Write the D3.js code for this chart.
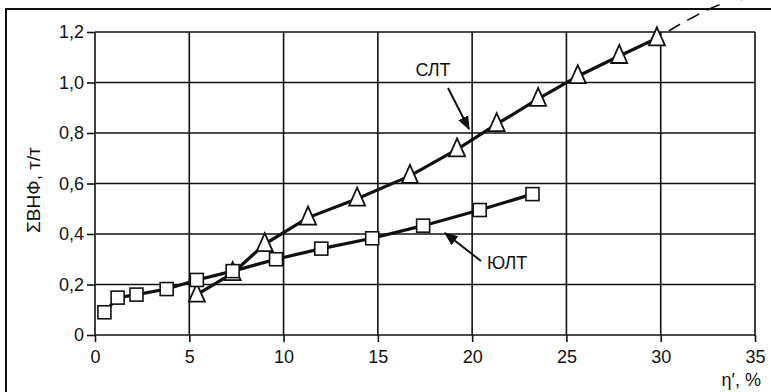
<!DOCTYPE html>
<html>
<head>
<meta charset="utf-8">
<script src="https://cdn.jsdelivr.net/npm/d3@7"></script>
<style>
  body { margin: 0; background: #fff; }
  text { font-family: 'Liberation Sans', Arial, sans-serif; fill: #111; }
</style>
</head>
<body>
<div id="graf"></div>
<script>
// -- Datos
xTicks = [0, 5, 10, 15, 20, 25, 30, 35]
yTicks = [0, 0.2, 0.4, 0.6, 0.8, 1.0, 1.2]

// ЮЛТ (квадраты)
yltX = [0.5, 1.2, 2.2, 3.8, 5.4, 7.3, 9.6, 12.0, 14.7, 17.4, 20.4, 23.2]
yltY = [0.09, 0.148, 0.16, 0.182, 0.218, 0.253, 0.30, 0.342, 0.383, 0.433, 0.495, 0.558]

// СЛТ (треугольники)
sltX = [5.4, 7.3, 9.0, 11.3, 13.9, 16.7, 19.2, 21.3, 23.5, 25.6, 27.8, 29.8]
sltY = [0.16, 0.245, 0.36, 0.465, 0.54, 0.63, 0.735, 0.835, 0.935, 1.025, 1.105, 1.175]

// экстраполяция СЛТ (штрих)
extX = [29.8, 31.5, 33.2, 35.6]
extY = [1.175, 1.25, 1.31, 1.34]

W = 771, H = 392
margins = {top: 32, left: 95, right: 16, bottom: 57}
ancho = W - margins.left - margins.right
alto = H - margins.top - margins.bottom

svg = d3.select('#graf').append('svg')
        .attr('width', W)
        .attr('height', H)

// -- Marco exterior
svg.append('rect')
    .attr('x', 6).attr('y', 9)
    .attr('width', 770).attr('height', 390)
    .attr('fill', 'none')
    .attr('stroke', '#111')
    .attr('stroke-width', 2)

g = svg.append('g')
       .attr('transform', `translate(${margins.left}, ${margins.top})`)

x = d3.scaleLinear().domain([0, 35]).range([0, ancho])
y = d3.scaleLinear().domain([0, 1.2]).range([alto, 0])

// -- Grid
g.append('g')
    .selectAll('line')
    .data(xTicks)
    .join('line')
    .attr('x1', d => x(d)).attr('x2', d => x(d))
    .attr('y1', 0).attr('y2', alto)
    .attr('stroke', '#111').attr('stroke-width', 1.6)
g.append('g')
    .selectAll('line')
    .data(yTicks)
    .join('line')
    .attr('x1', 0).attr('x2', ancho)
    .attr('y1', d => y(d)).attr('y2', d => y(d))
    .attr('stroke', '#111').attr('stroke-width', 1.6)

// -- Ejes
xAxis = d3.axisBottom(x).tickValues(xTicks).tickSize(7).tickPadding(8)
          .tickFormat(d => d)
yAxis = d3.axisLeft(y).tickValues(yTicks).tickSize(8).tickPadding(3)
          .tickFormat(d => d === 0 ? '0' : d3.format('.1f')(d).replace('.', ','))

gx = g.append('g').attr('transform', `translate(0,${alto})`).call(xAxis)
gy = g.append('g').call(yAxis)
;[gx, gy].forEach(a => {
    a.select('.domain').remove()
    a.attr('font-size', null).attr('font-family', null)
    a.selectAll('line').attr('stroke', '#111').attr('stroke-width', 1.6)
    a.selectAll('text').style('font-size', '18px').attr('fill', '#111')
})

// -- Etiquetas de ejes
svg.append('text')
    .attr('transform', 'translate(40,190) rotate(-90)')
    .attr('text-anchor', 'middle')
    .style('font-size', '19px')
    .text('ΣВНФ, т/т')
svg.append('text')
    .attr('x', 761).attr('y', 386)
    .attr('text-anchor', 'end')
    .style('font-size', '18px')
    .text('η′, %')

line = d3.line().x(d => x(d[0])).y(d => y(d[1])).curve(d3.curveMonotoneX)
lineRecta = d3.line().x(d => x(d[0])).y(d => y(d[1]))

// -- Extrapolación (sin recorte)
g.append('path')
    .datum(d3.zip(extX, extY))
    .attr('d', line)
    .attr('fill', 'none')
    .attr('stroke', '#111')
    .attr('stroke-width', 1.6)
    .attr('stroke-dasharray', '0,14,13,8,14,8,14,8')

// -- Líneas de datos
yltData = d3.zip(yltX, yltY)
sltData = d3.zip(sltX, sltY)

;[sltData, yltData].forEach(dat => {
    g.append('path')
        .datum(dat)
        .attr('d', lineRecta)
        .attr('fill', 'none')
        .attr('stroke', '#111')
        .attr('stroke-width', 3.2)
})

// -- Marcadores
g.append('g').selectAll('path')
    .data(sltData)
    .join('path')
    .attr('transform', d => `translate(${x(d[0])},${y(d[1])})`)
    .attr('d', 'M0,-11 L8,7 L-8,7 Z')
    .attr('fill', '#fff')
    .attr('stroke', '#111')
    .attr('stroke-width', 1.8)

g.append('g').selectAll('rect')
    .data(yltData)
    .join('rect')
    .attr('x', d => x(d[0]) - 6.5)
    .attr('y', d => y(d[1]) - 6.5)
    .attr('width', 13).attr('height', 13)
    .attr('fill', '#fff')
    .attr('stroke', '#111')
    .attr('stroke-width', 1.6)

// -- Anotaciones con flechas
svg.append('defs').append('marker')
    .attr('id', 'flecha')
    .attr('viewBox', '0 0 10 10')
    .attr('refX', 9).attr('refY', 5)
    .attr('markerWidth', 7).attr('markerHeight', 7)
    .attr('orient', 'auto')
    .append('path')
    .attr('d', 'M0,1 L10,5 L0,9 Z')
    .attr('fill', '#111')

svg.append('text')
    .attr('x', 433).attr('y', 76)
    .attr('text-anchor', 'middle')
    .style('font-size', '18px')
    .text('СЛТ')
svg.append('line')
    .attr('x1', 448).attr('y1', 88)
    .attr('x2', 469).attr('y2', 129)
    .attr('stroke', '#111').attr('stroke-width', 2)
    .attr('marker-end', 'url(#flecha)')

svg.append('text')
    .attr('x', 487).attr('y', 269)
    .style('font-size', '18px')
    .text('ЮЛТ')
svg.append('line')
    .attr('x1', 481).attr('y1', 261)
    .attr('x2', 445).attr('y2', 233)
    .attr('stroke', '#111').attr('stroke-width', 2)
    .attr('marker-end', 'url(#flecha)')
</script>
</body>
</html>
